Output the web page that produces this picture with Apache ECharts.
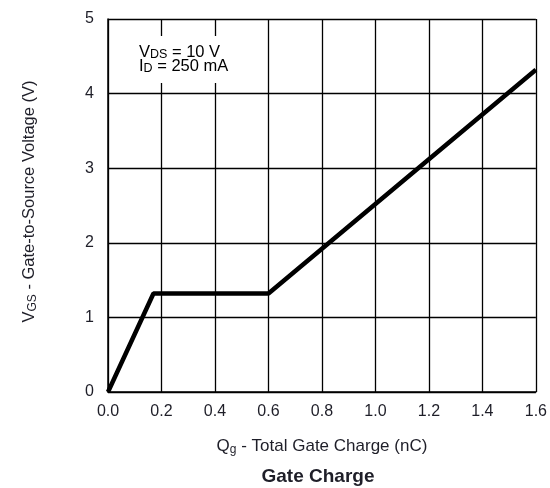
<!DOCTYPE html>
<html><head><meta charset="utf-8">
<script src="https://cdn.jsdelivr.net/npm/echarts@6/dist/echarts.min.js"></script>
<style>html,body{margin:0;padding:0;background:#fff}#c{width:550px;height:488px}</style>
</head><body><div id="c"></div>
<script>
const chargeNC = [0, 0.17, 0.6, 1.6];
const vgsV = [0, 1.32, 1.32, 4.32];
const xTicks = ['0.0','0.2','0.4','0.6','0.8','1.0','1.2','1.4','1.6'];
const titleText = 'Gate Charge';
const noteLines = ['{n|V}{s|DS}{n| = 10 V}', '{n|I}{s|D}{n| = 250 mA}'];

const txt = '#1e1e28';
const font = 'Liberation Sans, Arial, sans-serif';
const mkRich = (big, small, lh, drop) => ({
  n: {fontSize: big, color: txt, fontFamily: font, lineHeight: lh},
  s: {fontSize: small, color: txt, fontFamily: font, lineHeight: lh, padding: [drop,0,0,0]}
});
const chart = echarts.init(document.getElementById('c'));
chart.setOption({
  animation: false,
  title: {text: titleText, left: 313, top: 462, textAlign: 'center',
    textStyle: {fontSize: 19, fontWeight: 'bold', color: txt, fontFamily: font}},
  grid: {left: 108, right: 12, top: 19, bottom: 96},
  xAxis: {type: 'value', min: 0, max: 1.6, interval: 0.2,
    axisLine: {lineStyle: {color: '#000', width: 1.5}},
    axisTick: {show: false},
    axisLabel: {margin: 12, fontSize: 16, color: txt, fontFamily: font,
      formatter: (v) => xTicks[Math.round(v / 0.2)]},
    splitLine: {lineStyle: {color: '#000', width: 1.3}},
    name: '{n|Q}{s|g}{n| - Total Gate Charge (nC)}', nameLocation: 'middle', nameGap: 45,
    nameTextStyle: {rich: mkRich(17, 12, 18, 7)}
  },
  yAxis: {type: 'value', min: 0, max: 5, interval: 1,
    axisLine: {show: true, lineStyle: {color: '#000', width: 1.5}},
    axisTick: {show: false},
    axisLabel: {margin: 14, fontSize: 16, color: txt, fontFamily: font},
    splitLine: {lineStyle: {color: '#000', width: 1.3}},
    name: '{n|V}{s|GS}{n| - Gate-to-Source Voltage (V)}', nameLocation: 'middle', nameGap: 70,
    nameRotate: 90,
    nameTextStyle: {rich: mkRich(16.5, 12, 18, 7), padding: [0, 0, 0, 8]}
  },
  graphic: [{
    type: 'text', left: 136, top: 36, z: 10,
    style: {
      text: noteLines.join('\n'),
      rich: mkRich(16.5, 12.5, 13.5, 4),
      backgroundColor: '#fff',
      padding: [10, 12, 10, 3]
    }
  }],
  series: [{
    type: 'line', symbol: 'none',
    data: chargeNC.map((x, i) => [x, vgsV[i]]),
    lineStyle: {color: '#000', width: 4.5}, z: 5
  }]
});
</script></body></html>
